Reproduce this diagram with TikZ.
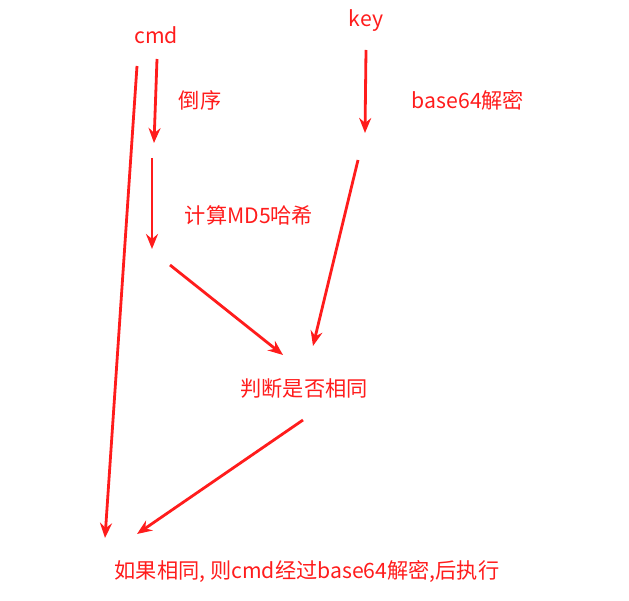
\documentclass[tikz,border=0pt]{standalone}
\usepackage{fontspec}
\setmainfont{Noto Sans CJK SC}
\usetikzlibrary{arrows.meta}
\definecolor{inkred}{RGB}{255,28,28}
\tikzset{
  lbl/.style={text=inkred, inner sep=0pt, font=\fontsize{21.2}{25}\selectfont},
  arr/.style={draw=inkred, line width=2.8pt, -{Stealth[length=15pt, width=12pt, inset=5pt]}}
}
\begin{document}
\begin{tikzpicture}[x=1pt, y=-1pt]
\useasboundingbox (0,0) rectangle (629,601);

% labels
\node [lbl] (cmd) at (156,35) {cmd};
\node [lbl] (key) at (366,21) {key};
\node [lbl] (rev) at (200,100) {倒序};
\node [lbl] (b64) at (468,100) {base64解密};
\node [lbl] (md5) at (249,215) {计算MD5哈希};
\node [lbl] (cmp) at (304,388) {判断是否相同};
\node [lbl] (run) at (307,572) {如果相同, 则cmd经过base64解密,后执行};

% arrow ends
\coordinate (c0) at (137,66);
\coordinate (c1) at (105,538);
\coordinate (r0) at (157,59);
\coordinate (r1) at (154,143);
\coordinate (m0) at (152,158);
\coordinate (m1) at (152,249);
\coordinate (h0) at (170,265);
\coordinate (h1) at (283,355);
\coordinate (k0) at (366,50);
\coordinate (k1) at (365,133);
\coordinate (d0) at (358,160);
\coordinate (d1) at (313,346);
\coordinate (s0) at (303,420);
\coordinate (s1) at (137,534);

\draw [arr] (c0) -- (c1);
\draw [arr] (r0) -- (r1);
\draw [arr] (m0) -- (m1);
\draw [arr] (h0) -- (h1);
\draw [arr] (k0) -- (k1);
\draw [arr] (d0) -- (d1);
\draw [arr] (s0) -- (s1);

\end{tikzpicture}
\end{document}
